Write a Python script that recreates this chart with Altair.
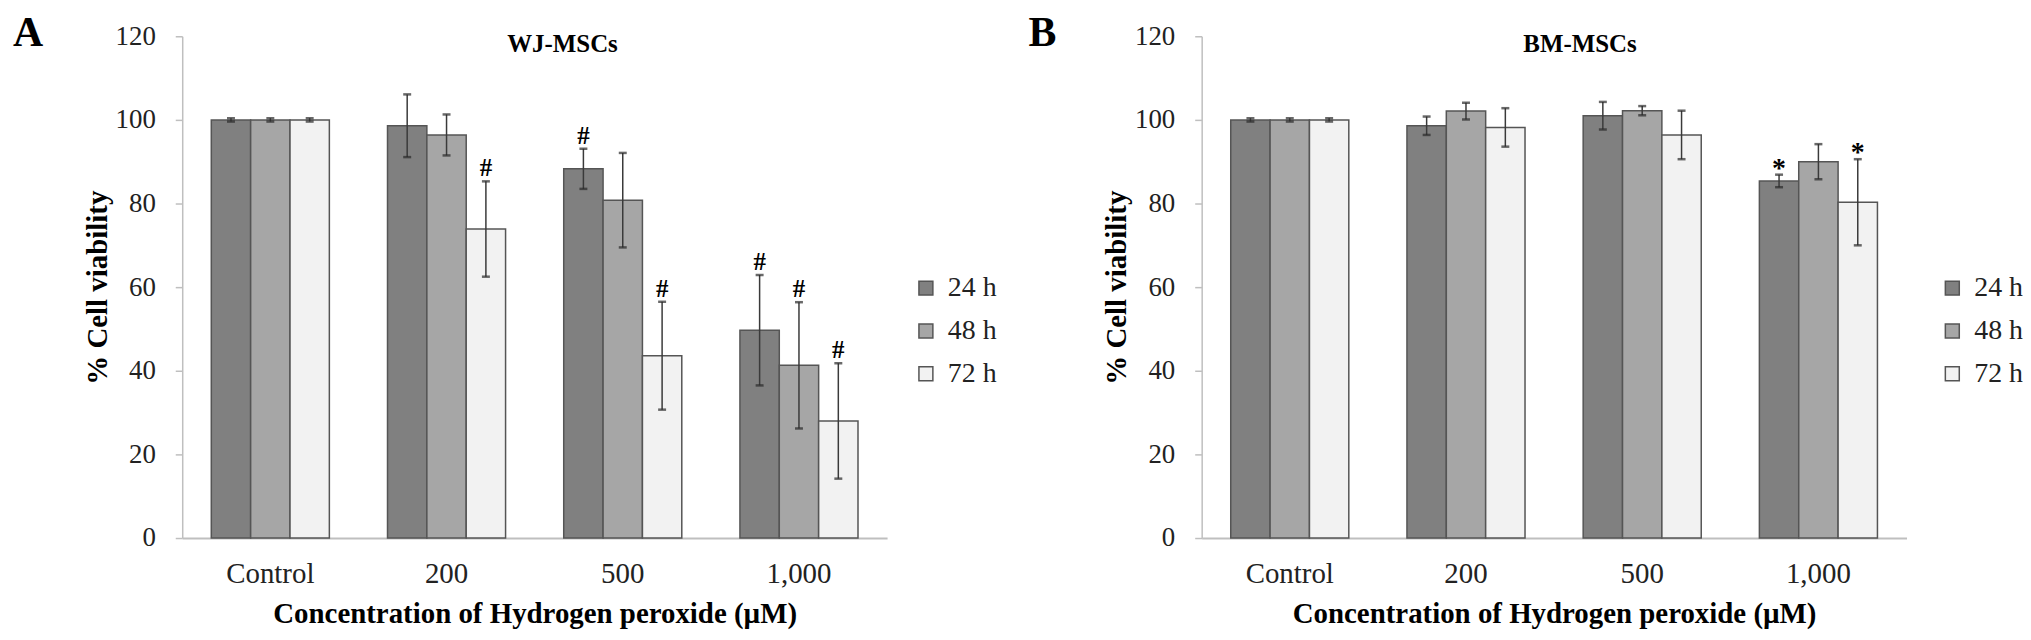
import altair as alt
import pandas as pd

SERIF = "Liberation Serif"

DOSES = ["Control", "200", "500", "1,000"]
TIMES = ["24 h", "48 h", "72 h"]
FILLS = ["#808080", "#a6a6a6", "#f2f2f2"]
Y_TICKS = [0, 20, 40, 60, 80, 100, 120]
X_TITLE = "Concentration of Hydrogen peroxide (µM)"
Y_TITLE = "% Cell viability"

# WJ-MSCs: mean % viability, error and significance mark per time point
WJ_24 = [100.0, 98.6, 88.3, 49.7]
WJ_48 = [100.0, 96.4, 80.8, 41.3]
WJ_72 = [100.0, 73.9, 43.6, 28.0]
WJ_24_ERR = [0.4, 7.5, 4.8, 13.2]
WJ_48_ERR = [0.4, 4.9, 11.3, 15.1]
WJ_72_ERR = [0.4, 11.4, 12.9, 13.8]
WJ_24_SIG = ["", "", "#", "#"]
WJ_48_SIG = ["", "", "", "#"]
WJ_72_SIG = ["", "#", "#", "#"]

# BM-MSCs
BM_24 = [100.0, 98.6, 101.0, 85.4]
BM_48 = [100.0, 102.1, 102.2, 90.0]
BM_72 = [100.0, 98.2, 96.4, 80.3]
BM_24_ERR = [0.4, 2.2, 3.3, 1.5]
BM_48_ERR = [0.4, 2.0, 1.1, 4.2]
BM_72_ERR = [0.4, 4.6, 5.8, 10.3]
BM_24_SIG = ["", "", "", "*"]
BM_48_SIG = ["", "", "", ""]
BM_72_SIG = ["", "", "", "*"]


def build_frame(means, errs, sigs):
    rows = []
    for time, m_list, e_list, s_list in zip(TIMES, means, errs, sigs):
        for dose, m, e, s in zip(DOSES, m_list, e_list, s_list):
            rows.append({"dose": dose, "time": time, "mean": m,
                         "lo": m - e, "hi": m + e, "sig": s})
    return pd.DataFrame(rows)


def panel(df, letter, title, letter_x, title_x, legend_x, sig_size, sig_dy):
    x_ax = alt.Axis(title=X_TITLE, labelAngle=0, ticks=False, tickSize=0, grid=False,
                    domainColor="#bfbfbf", domainWidth=2,
                    labelFont=SERIF, labelFontSize=29, labelColor="#222", labelPadding=22,
                    titleFont=SERIF, titleFontSize=29, titleFontWeight="bold",
                    titleColor="black", titlePadding=11)
    y_ax = alt.Axis(title=Y_TITLE, values=Y_TICKS, grid=False,
                    domainColor="#bfbfbf", domainWidth=1.5,
                    tickColor="#bfbfbf", tickSize=7, tickWidth=1.5,
                    labelFont=SERIF, labelFontSize=27, labelColor="#222", labelPadding=20,
                    titleFont=SERIF, titleFontSize=29, titleFontWeight="bold",
                    titleColor="black", titlePadding=3)
    x = alt.X("dose:N", sort=DOSES, axis=x_ax,
              scale=alt.Scale(paddingInner=0.33, paddingOuter=0.165))
    xoff = alt.XOffset("time:N", sort=TIMES,
                       scale=alt.Scale(paddingInner=0, paddingOuter=0))
    yscale = alt.Scale(domain=[0, 120], nice=False)

    base = alt.Chart(df)

    bars = base.mark_bar(stroke="#555555", strokeWidth=1.5).encode(
        x=x,
        xOffset=xoff,
        y=alt.Y("mean:Q", scale=yscale, axis=y_ax),
        color=alt.Color(
            "time:N", sort=TIMES,
            scale=alt.Scale(domain=TIMES, range=FILLS),
            legend=alt.Legend(title=None, orient="none", legendX=legend_x, legendY=239,
                              symbolType="square", symbolSize=196,
                              symbolStrokeColor="#555555", symbolStrokeWidth=1.5,
                              labelFont=SERIF, labelFontSize=28, labelColor="#222",
                              labelOffset=8, rowPadding=15, padding=0),
        ),
    )

    rules = base.mark_rule(color="#3a3a3a", strokeWidth=1.5).encode(
        x=x, xOffset=xoff,
        y=alt.Y("lo:Q", scale=yscale, axis=y_ax), y2="hi:Q",
    )
    cap_hi = base.mark_tick(color="#2a2a2a", thickness=2.5, size=8).encode(
        x=x, xOffset=xoff, y=alt.Y("hi:Q", scale=yscale, axis=y_ax),
    )
    cap_lo = base.mark_tick(color="#2a2a2a", thickness=2.5, size=8).encode(
        x=x, xOffset=xoff, y=alt.Y("lo:Q", scale=yscale, axis=y_ax),
    )
    sig = base.mark_text(font=SERIF, fontSize=sig_size, fontWeight="bold",
                         baseline="alphabetic", dy=sig_dy, color="black").encode(
        x=x, xOffset=xoff, y=alt.Y("hi:Q", scale=yscale, axis=y_ax), text="sig:N",
    ).transform_filter("datum.sig != ''")

    letter_mark = alt.Chart(pd.DataFrame({"t": [letter]})).mark_text(
        font=SERIF, fontSize=42, fontWeight="bold", align="left",
        baseline="alphabetic", color="black",
    ).encode(text="t:N", x=alt.value(letter_x), y=alt.value(10))

    title_mark = alt.Chart(pd.DataFrame({"t": [title]})).mark_text(
        font=SERIF, fontSize=25, fontWeight="bold", align="center",
        baseline="alphabetic", color="black",
    ).encode(text="t:N", x=alt.value(title_x), y=alt.value(15.5))

    return alt.layer(bars, rules, cap_hi, cap_lo, sig, letter_mark, title_mark).properties(
        width=708, height=504
    )


wj = build_frame([WJ_24, WJ_48, WJ_72], [WJ_24_ERR, WJ_48_ERR, WJ_72_ERR],
                 [WJ_24_SIG, WJ_48_SIG, WJ_72_SIG])
bm = build_frame([BM_24, BM_48, BM_72], [BM_24_ERR, BM_48_ERR, BM_72_ERR],
                 [BM_24_SIG, BM_48_SIG, BM_72_SIG])

left = panel(wj, "A", "WJ-MSCs", -170, 382, 733, 25, -5)
right = panel(bm, "B", "BM-MSCs", -174, 380, 740, 28, 2)

chart = alt.hconcat(left, right, spacing=316, bounds="flush").resolve_scale(
    color="independent", x="independent", y="independent"
).resolve_legend(
    color="independent"
).properties(
    padding={"left": 5, "top": 3, "right": 0, "bottom": 0}
).configure_view(
    strokeWidth=0,
)

chart.save("out.html", embed_options={"renderer": "svg", "actions": False})
